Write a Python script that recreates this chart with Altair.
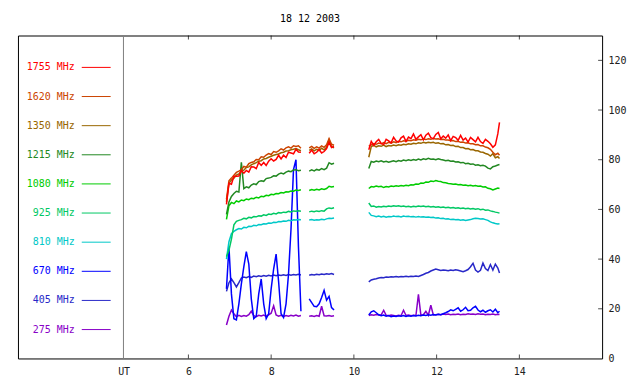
import altair as alt
import pandas as pd

MONO = "DejaVu Sans Mono"

# legend order (top to bottom) and colours
labels = ["1755 MHz", "1620 MHz", "1350 MHz", "1215 MHz", "1080 MHz",
          "925 MHz", "810 MHz", "670 MHz", "405 MHz", "275 MHz"]
colors = ["#ff0000", "#cc4400", "#996600", "#228822", "#00cc00",
          "#00c864", "#00c8c8", "#0000ff", "#2828c8", "#8800c8"]

# time grids (UT hours) for the three observing segments
t_seg1 = [6.92, 6.98, 7.04, 7.10, 7.16, 7.22, 7.28, 7.34, 7.40, 7.46,
          7.52, 7.58, 7.64, 7.70, 7.76, 7.82, 7.88, 7.94, 8.00, 8.06,
          8.12, 8.18, 8.24, 8.30, 8.36, 8.42, 8.48, 8.54, 8.60, 8.66,
          8.72]
t_seg2 = [8.92, 8.98, 9.04, 9.10, 9.16, 9.22, 9.28, 9.34, 9.40, 9.46, 9.52]
t_seg3 = [10.36, 10.42, 10.48, 10.54, 10.60, 10.66, 10.72, 10.78, 10.84, 10.90,
          10.96, 11.02, 11.08, 11.14, 11.20, 11.26, 11.32, 11.38, 11.44, 11.50,
          11.56, 11.62, 11.68, 11.74, 11.80, 11.86, 11.92, 11.98, 12.04, 12.10,
          12.16, 12.22, 12.28, 12.34, 12.40, 12.46, 12.52, 12.58, 12.64, 12.70,
          12.76, 12.82, 12.88, 12.94, 13.00, 13.06, 13.12, 13.18, 13.24, 13.30,
          13.36, 13.42, 13.48, 13.52]

f1755 = (
    [62.0, 70.5, 70.1, 73.3, 73.3, 73.4, 75.7, 74.6, 75.7, 75.0,
     77.2, 77.1, 76.4, 78.9, 77.7, 78.9, 77.7, 79.4, 80.4, 79.5,
     80.1, 81.8, 80.3, 81.8, 80.9, 83.0, 82.7, 82.4, 84.2, 83.1,
     83.0],
    [82.6, 83.9, 82.4, 83.0, 84.1, 82.7, 83.3, 84.5, 87.0, 84.9, 85.3],
    [84.0, 87.4, 85.8, 87.2, 88.2, 86.6, 86.1, 88.2, 87.6, 86.8,
     89.0, 87.6, 87.1, 88.8, 89.5, 87.4, 89.1, 88.5, 90.4, 88.2,
     89.2, 90.1, 88.0, 89.9, 90.7, 88.9, 88.5, 90.2, 91.0, 88.4,
     89.5, 88.7, 90.0, 87.7, 89.4, 88.9, 87.8, 89.8, 87.9, 88.7,
     87.1, 89.0, 88.1, 87.2, 89.0, 87.3, 86.6, 88.2, 87.4, 86.4,
     85.0, 86.0, 90.5, 95.0],
)
f1620 = (
    [64.0, 71.5, 72.6, 73.8, 74.9, 75.4, 76.0, 77.3, 77.0, 78.4,
     78.9, 79.2, 80.1, 80.0, 81.2, 81.0, 81.9, 82.5, 82.1, 83.3,
     83.0, 83.6, 84.4, 83.9, 84.8, 85.2, 84.7, 85.6, 85.3, 85.6,
     84.6],
    [84.8, 85.4, 84.6, 85.2, 84.7, 85.6, 85.0, 86.0, 88.5, 86.2, 85.8],
    [85.5, 86.0, 86.5, 86.2, 86.7, 86.4, 86.9, 86.5, 87.0, 86.7,
     87.2, 86.9, 87.4, 87.2, 87.6, 87.4, 87.8, 87.6, 88.0, 87.8,
     88.2, 88.0, 88.3, 88.1, 88.4, 88.2, 88.5, 88.3, 88.4, 88.1,
     88.2, 87.9, 87.9, 87.6, 87.7, 87.3, 87.4, 87.0, 87.1, 86.7,
     86.8, 86.4, 86.4, 86.0, 86.1, 85.6, 85.6, 85.1, 84.8, 84.2,
     83.0, 82.0, 82.6, 81.8],
)
f1350 = (
    [63.0, 70.5, 71.8, 72.6, 73.8, 74.3, 75.4, 75.8, 76.9, 77.1,
     77.9, 78.4, 78.8, 79.4, 79.6, 80.3, 80.5, 81.0, 81.4, 81.8,
     82.1, 82.3, 82.8, 83.0, 83.5, 83.6, 84.0, 84.2, 84.5, 84.0,
     83.6],
    [83.8, 84.4, 83.6, 84.2, 83.7, 84.6, 84.0, 85.0, 88.0, 85.2, 84.8],
    [81.0, 85.3, 85.8, 85.2, 85.6, 85.4, 85.9, 85.3, 85.7, 85.5,
     85.9, 85.6, 86.0, 85.8, 86.2, 86.0, 86.4, 86.2, 86.6, 86.4,
     86.8, 86.6, 87.0, 86.7, 87.0, 86.8, 87.0, 86.6, 86.8, 86.4,
     86.5, 86.0, 86.1, 85.7, 85.8, 85.3, 85.4, 84.9, 84.9, 84.4,
     84.5, 84.0, 84.1, 83.6, 83.6, 83.1, 83.0, 82.5, 82.2, 81.5,
     82.4, 80.8, 81.2, 80.5],
)
f1215 = (
    [58.0, 63.0, 65.2, 66.4, 67.3, 67.0, 79.0, 68.4, 69.1, 68.7,
     69.8, 70.3, 70.0, 71.2, 71.5, 71.3, 72.4, 72.6, 72.9, 73.5,
     73.4, 74.2, 74.6, 74.3, 75.0, 75.4, 75.2, 75.9, 76.0, 75.6,
     75.8],
    [75.4, 75.9, 75.5, 76.1, 75.8, 76.4, 76.0, 76.6, 78.8, 78.2, 78.6],
    [76.5, 79.3, 79.0, 79.5, 79.2, 79.6, 79.1, 79.4, 79.0, 79.3,
     79.6, 79.2, 79.7, 79.4, 79.9, 79.6, 80.0, 79.7, 80.1, 79.8,
     80.3, 79.9, 80.4, 80.1, 80.6, 80.2, 80.3, 80.0, 80.4, 80.1,
     79.9, 79.6, 79.8, 79.4, 79.5, 79.1, 79.2, 78.8, 78.9, 78.4,
     78.6, 78.2, 78.3, 77.8, 78.0, 77.6, 77.8, 77.4, 76.6, 76.3,
     77.2, 77.5, 77.9, 78.1],
)
f1080 = (
    [56.0, 61.5, 62.8, 62.3, 63.4, 63.0, 63.8, 63.5, 64.2, 63.9,
     64.5, 64.3, 64.9, 64.6, 65.3, 65.1, 65.7, 65.5, 66.1, 65.9,
     66.4, 66.3, 66.8, 66.6, 67.1, 67.0, 67.4, 67.3, 67.8, 67.6,
     67.9],
    [67.6, 68.0, 67.7, 68.1, 67.8, 68.3, 68.0, 68.4, 69.3, 69.0, 69.2],
    [68.4, 69.2, 69.0, 69.4, 69.1, 69.3, 68.8, 69.2, 69.0, 69.4,
     69.2, 69.5, 69.3, 69.6, 69.4, 69.7, 69.5, 69.9, 69.8, 70.2,
     70.1, 70.6, 70.5, 71.0, 70.9, 71.4, 71.2, 71.6, 71.3, 71.2,
     70.8, 70.7, 70.4, 70.3, 70.1, 70.2, 69.9, 70.0, 69.7, 69.8,
     69.5, 69.7, 69.4, 69.6, 69.3, 69.4, 69.0, 69.1, 68.5, 68.3,
     67.8, 68.2, 68.6, 68.4],
)
f925 = (
    [41.0, 43.5, 48.0, 53.8, 55.2, 55.6, 55.9, 56.4, 56.2, 56.8,
     56.6, 57.1, 57.0, 57.4, 57.3, 57.8, 57.6, 58.1, 58.0, 58.4,
     58.2, 58.7, 58.6, 58.9, 58.8, 59.2, 59.0, 59.4, 59.3, 59.5,
     59.3],
    [59.0, 59.3, 59.1, 59.4, 59.2, 59.5, 59.3, 60.2, 60.6, 60.4, 60.7],
    [62.6, 61.2, 61.4, 60.9, 61.2, 61.0, 61.3, 61.1, 61.4, 61.2,
     61.5, 61.3, 61.5, 61.2, 61.4, 61.1, 61.3, 61.0, 61.3, 61.1,
     61.4, 61.2, 61.4, 61.1, 61.3, 61.0, 61.2, 60.9, 61.1, 60.8,
     61.0, 60.7, 60.9, 60.6, 60.8, 60.5, 60.7, 60.4, 60.6, 60.3,
     60.5, 60.2, 60.4, 60.1, 60.3, 59.9, 60.1, 59.7, 59.8, 59.4,
     59.2, 58.9, 58.7, 58.5],
)
f810 = (
    [40.0, 47.0, 50.2, 51.2, 51.8, 52.3, 52.1, 52.8, 52.6, 53.2,
     53.1, 53.6, 53.4, 53.9, 53.8, 54.2, 54.1, 54.5, 54.4, 54.8,
     54.7, 55.1, 55.0, 55.3, 55.2, 55.6, 55.4, 55.8, 55.7, 55.9,
     55.8],
    [55.7, 55.9, 55.6, 55.8, 55.7, 56.0, 55.8, 56.2, 56.4, 56.3, 56.5],
    [58.8, 57.6, 57.4, 57.1, 57.3, 57.0, 57.2, 56.9, 57.1, 57.0,
     57.3, 57.1, 57.2, 57.0, 57.3, 57.1, 57.2, 57.0, 57.1, 56.9,
     57.1, 56.9, 57.0, 56.8, 56.9, 56.7, 56.8, 56.5, 56.6, 56.3,
     56.4, 56.1, 56.2, 55.9, 56.0, 55.8, 55.9, 55.6, 55.8, 55.5,
     55.7, 55.9, 56.2, 56.4, 56.3, 56.1, 56.2, 55.9, 55.6, 55.0,
     54.6, 54.3, 54.1, 54.2],
)
f670 = (
    [28.0, 45.0, 26.0, 16.0, 15.5, 22.0, 30.0, 37.0, 43.0, 38.0,
     24.0, 16.0, 17.0, 26.0, 32.0, 22.0, 16.0, 18.0, 28.0, 36.0,
     42.0, 31.0, 18.0, 16.5, 22.0, 34.0, 52.0, 76.0, 80.0, 45.0,
     19.0],
    [24.0, 22.5, 21.0, 20.8, 22.0, 24.5, 27.4, 23.5, 25.0, 20.5, 19.5],
    [17.5, 18.8, 19.2, 18.4, 17.6, 17.2, 17.5, 17.0, 17.3, 16.8,
     17.1, 16.9, 17.2, 17.0, 17.3, 16.9, 17.2, 17.0, 17.3, 17.1,
     17.4, 17.2, 17.5, 17.3, 17.6, 17.4, 17.7, 17.5, 17.8, 17.6,
     18.0, 18.4, 18.9, 19.6, 19.2, 19.8, 20.4, 19.0, 19.6, 20.6,
     19.2, 19.4, 20.4, 21.0, 19.5, 18.8, 19.4, 18.6, 19.2, 19.6,
     18.7, 19.8, 18.4, 19.0],
)
f405 = (
    [27.0, 30.5, 32.0, 30.5, 28.8, 30.5, 32.4, 32.8, 32.5, 33.0,
     32.6, 33.2, 32.9, 33.3, 33.0, 33.4, 33.1, 33.5, 33.2, 33.6,
     33.3, 33.6, 33.4, 33.7, 33.4, 33.8, 33.5, 33.8, 33.6, 33.9,
     33.6],
    [33.5, 33.8, 33.6, 33.9, 33.7, 34.0, 33.8, 34.1, 33.9, 34.2, 33.8],
    [30.8, 31.6, 31.9, 32.1, 32.4, 32.6, 32.5, 32.8, 32.7, 32.9,
     32.8, 33.0, 32.8, 33.0, 32.9, 33.1, 32.9, 33.1, 33.0, 33.2,
     33.0, 33.4, 33.8, 34.3, 34.6, 35.2, 35.6, 36.0, 35.7, 35.4,
     35.6, 35.5, 35.3, 35.6, 35.4, 35.7, 35.5, 35.2, 34.9, 35.3,
     35.8, 36.9, 38.3, 35.6, 34.8, 35.5, 38.4, 36.2, 35.4, 37.8,
     35.6, 38.0, 36.4, 34.4],
)
f275 = (
    [13.5, 17.0, 19.5, 18.0, 16.8, 17.4, 16.9, 17.3, 17.0, 17.6,
     19.0, 17.2, 16.8, 17.4, 17.1, 17.5, 16.9, 17.6, 18.2, 21.2,
     17.5, 17.0, 17.4, 16.9, 17.3, 17.0, 17.4, 17.1, 17.5, 17.0,
     17.3],
    [17.0, 17.2, 16.9, 17.3, 17.0, 21.0, 17.2, 17.1, 17.3, 17.0, 17.2],
    [17.3, 17.6, 17.4, 17.7, 17.5, 17.6, 19.4, 17.4, 17.2, 17.5,
     17.3, 17.1, 17.4, 17.2, 19.4, 17.3, 17.5, 17.2, 17.4, 17.3,
     25.8, 17.4, 17.6, 19.0, 17.4, 21.4, 17.5, 17.6, 17.8, 17.6,
     17.9, 17.7, 17.9, 17.6, 17.8, 17.7, 17.9, 17.6, 17.8, 17.7,
     18.0, 17.8, 17.9, 17.7, 18.0, 17.8, 17.9, 17.6, 17.8, 17.7,
     17.9, 17.6, 17.8, 17.7],
)

x_ticks = [6, 8, 10, 12, 14]
y_ticks = [0, 20, 40, 60, 80, 100, 120]
ut_start = [4.43]
x_domain = [1.88, 16.0]
y_domain = [0, 130]

# drawing order: lowest frequency first, 1755 MHz on top
draw_order = [("275 MHz", f275), ("405 MHz", f405), ("670 MHz", f670),
              ("810 MHz", f810), ("925 MHz", f925), ("1080 MHz", f1080),
              ("1215 MHz", f1215), ("1350 MHz", f1350), ("1620 MHz", f1620),
              ("1755 MHz", f1755)]
grids = [t_seg1, t_seg2, t_seg3]
rows = []
for name, segs in draw_order:
    for k, (tt, vv) in enumerate(zip(grids, segs)):
        if len(tt) != len(vv):
            raise ValueError(f"{name} seg{k}: {len(tt)} vs {len(vv)}")
        for t, v in zip(tt, vv):
            rows.append({"series": name, "seg": k, "t": t, "v": v})
df = pd.DataFrame(rows)

color_scale = alt.Scale(domain=labels, range=colors)
x_scale = alt.Scale(domain=x_domain, nice=False, zero=False)
y_scale = alt.Scale(domain=y_domain, nice=False, zero=False)
x_axis = alt.Axis(values=x_ticks, ticks=False, domain=False, grid=False,
                  labelPadding=8, labelFlush=False, title="UT",
                  titleX=106, titleY=8, titleBaseline="top", titleAlign="center",
                  titleFont=MONO, titleFontSize=10, titleFontWeight="normal",
                  titleColor="#202020")
y_axis = alt.Axis(orient="right", values=y_ticks, ticks=False, domain=False,
                  grid=False, labelPadding=6, title=None)

X = alt.X("t:Q", scale=x_scale, axis=x_axis)
Y = alt.Y("v:Q", scale=y_scale, axis=y_axis)

lines = alt.Chart(df).mark_line(strokeWidth=1.5).encode(
    x=X, y=Y,
    color=alt.Color("series:N", scale=color_scale, legend=None),
    detail="seg:N",
)

ut_rule = alt.Chart(pd.DataFrame({"t": ut_start})).mark_rule(
    color="#808080", strokeWidth=1).encode(x=X)

xt = pd.DataFrame({"t": x_ticks})
ticks_bottom = alt.Chart(xt).mark_tick(orient="vertical", color="black",
                                       size=4, thickness=1).encode(
    x=X, y=alt.value(322))
ticks_top = alt.Chart(xt).mark_tick(orient="vertical", color="black",
                                    size=4, thickness=1).encode(
    x=X, y=alt.value(2))
yt = pd.DataFrame({"v": y_ticks[1:]})
ticks_right = alt.Chart(yt).mark_tick(orient="horizontal", color="black",
                                      size=4, thickness=1).encode(
    y=Y, x=alt.value(584))

main = alt.layer(lines, ut_rule, ticks_bottom, ticks_top, ticks_right)

leg_df = pd.DataFrame({"series": labels})
LY = alt.Y("series:N", scale=alt.Scale(type="point", domain=labels,
                                        range=[32, 295], padding=0), axis=None)
leg_text = alt.Chart(leg_df).mark_text(
    align="right", baseline="middle", font=MONO, fontSize=10).encode(
    y=LY, x=alt.value(57), text="series:N",
    color=alt.Color("series:N", scale=color_scale, legend=None))
leg_rule = alt.Chart(leg_df).mark_rule(strokeWidth=1).encode(
    y=LY, x=alt.value(64), x2=alt.value(93),
    color=alt.Color("series:N", scale=color_scale, legend=None))
legend = alt.layer(leg_text, leg_rule)

chart = alt.layer(main, legend).resolve_scale(y="independent").properties(
    width=586, height=324,
    padding={"left": 10, "top": 5, "right": 5, "bottom": 0},
    title=alt.TitleParams(text="18 12 2003", font=MONO, fontSize=10,
                          fontWeight="normal", color="black", anchor="middle",
                          frame="group", offset=11),
    background="white",
).configure_view(stroke="black", strokeWidth=1).configure_axis(
    labelFont=MONO, labelFontSize=10, labelColor="#202020")

chart.save("out.html", embed_options={"renderer": "svg", "actions": False})
